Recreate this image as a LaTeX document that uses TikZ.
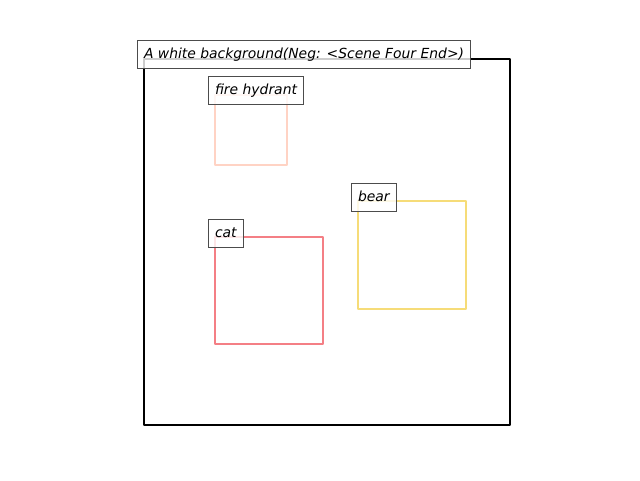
\documentclass[tikz,border=0pt]{standalone}
\usepackage{fontspec}
\setmainfont{DejaVu Sans}
\tikzset{
  lbl/.style={draw=black!70,line width=1pt,fill=white,fill opacity=.8,text opacity=1,
    anchor=west,inner xsep=6.5pt,inner ysep=0pt,minimum height=28pt,
    text height=11pt,text depth=2pt,font=\fontsize{13.9}{16}\selectfont\itshape},
  box/.style={line width=2.2pt,line join=round}
}
\definecolor{hydrantc}{HTML}{FFD3C4}
\definecolor{catc}{HTML}{F47F85}
\definecolor{bearc}{HTML}{F6DC78}
\begin{document}
\begin{tikzpicture}[x=1pt,y=-1pt]
\useasboundingbox (0,0) rectangle (640,480);
\draw[box,black] (144,59) rectangle (510,425);
\draw[box,hydrantc] (215,95) rectangle (287,165);
\draw[box,catc] (215,237) rectangle (323,344);
\draw[box,bearc] (358,201) rectangle (466,309);
\node[lbl] (scene) at (137,54) {A white background(Neg: <Scene Four End>)};
\node[lbl] (hydrant) at (208,90) {fire hydrant};
\node[lbl] (cat) at (208,233) {cat};
\node[lbl] (bear) at (351,197) {bear};
\end{tikzpicture}
\end{document}
